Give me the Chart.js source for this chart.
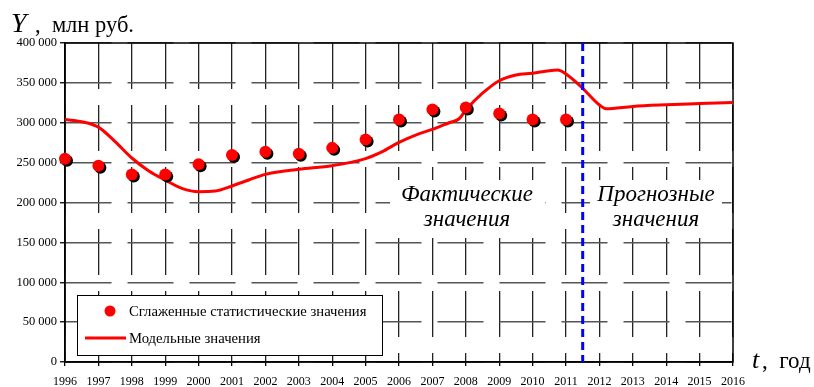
<!DOCTYPE html>
<html lang="ru">
<head>
<meta charset="utf-8">
<script src="https://cdn.jsdelivr.net/npm/chart.js@4.4.1/dist/chart.umd.min.js"></script>
<style>
  html, body { margin: 0; padding: 0; background: #fff; }
  #wrap { position: relative; width: 814px; height: 387px; }
</style>
</head>
<body>
<div id="wrap"><canvas id="c" width="814" height="387"></canvas></div>
<script>
// Years shown on the time axis
const tickYears = [1996, 1997, 1998, 1999, 2000, 2001, 2002, 2003, 2004, 2005, 2006,
                   2007, 2008, 2009, 2010, 2011, 2012, 2013, 2014, 2015, 2016];
const yTicks = [0, 50000, 100000, 150000, 200000, 250000, 300000, 350000, 400000];

// Smoothed statistical values, mln rub.
const statYears = [1996, 1997, 1998, 1999, 2000, 2001, 2002, 2003, 2004, 2005, 2006,
                   2007, 2008, 2009, 2010, 2011];
const statValues = [255000, 246000, 235000, 235000, 248000, 259500, 263500, 261000, 268500,
                    279000, 304000, 316500, 319000, 311500, 304000, 304000];

// Model curve (fitted + forecast)
const modelX = [1996, 1996.5, 1997, 1997.5, 1998, 1998.5, 1999, 1999.5, 2000, 2000.5,
                2001, 2001.5, 2002, 2003, 2004, 2005, 2005.5, 2006, 2006.5, 2007,
                2007.5, 2007.8, 2008, 2008.5, 2009, 2009.5, 2010, 2010.5, 2010.75, 2011,
                2011.5, 2012, 2012.2, 2013, 2014, 2015, 2016];
const modelY = [304000, 301300, 294500, 276300, 255800, 239900, 228200, 217800, 213600, 214400,
                220700, 228200, 235300, 241600, 246200, 255000, 263700, 275500, 284600, 291700,
                300000, 305000, 316000, 337000, 352700, 359900, 362000, 365300, 366000, 361100,
                343200, 322300, 317500, 320500, 322500, 324000, 325500];

// Boundary between actual and forecast periods
const forecastStart = 2011.5;

const serif = '"Liberation Serif", "Times New Roman", serif';

const fmt = v => String(v).replace(/\B(?=(\d{3})+(?!\d))/g, ' ');

const shadowPlugin = {
  id: 'dotShadow',
  beforeDatasetDraw(chart, args) {
    if (args.index !== 0) return;
    const ctx = chart.ctx;
    ctx.save();
    ctx.shadowColor = '#000';
    ctx.shadowOffsetX = 2;
    ctx.shadowOffsetY = 2;
    ctx.shadowBlur = 0;
  },
  afterDatasetDraw(chart, args) {
    if (args.index !== 0) return;
    chart.ctx.restore();
  }
};

const decorPlugin = {
  id: 'decor',
  beforeDatasetsDraw(chart) {
    const { ctx, chartArea: a } = chart;
    ctx.save();
    // white plates under the period captions
    ctx.fillStyle = '#fff';
    ctx.fillRect(390, 180, 155, 58);
    ctx.fillRect(590, 180, 132, 58);
    // legend box
    ctx.fillRect(77, 295, 305, 60);
    ctx.strokeStyle = '#000';
    ctx.lineWidth = 1;
    ctx.strokeRect(77.5, 295.5, 305, 60);
    // plot frame
    ctx.lineWidth = 1.5;
    ctx.strokeRect(a.left, a.top, a.right - a.left, a.bottom - a.top);

    // period captions
    ctx.fillStyle = '#000';
    ctx.textAlign = 'center';
    ctx.textBaseline = 'alphabetic';
    ctx.font = 'italic 23px ' + serif;
    ctx.fillText('Фактические', 467, 201);
    ctx.fillText('значения', 467, 226);
    ctx.fillText('Прогнозные', 656, 201);
    ctx.fillText('значения', 656, 226);

    // legend entries
    ctx.textAlign = 'left';
    ctx.font = '14.7px ' + serif;
    ctx.fillStyle = '#ff0000';
    ctx.beginPath();
    ctx.arc(110, 311, 5.5, 0, Math.PI * 2);
    ctx.fill();
    ctx.strokeStyle = '#ff0000';
    ctx.lineWidth = 3;
    ctx.beginPath();
    ctx.moveTo(85, 338);
    ctx.lineTo(126, 338);
    ctx.stroke();
    ctx.fillStyle = '#000';
    ctx.fillText('Сглаженные статистические значения', 129, 316);
    ctx.fillText('Модельные значения', 129, 343);

    // axis titles
    ctx.font = 'italic 28px ' + serif;
    ctx.fillText('Y', 11, 32);
    ctx.font = '22.5px ' + serif;
    ctx.fillText(',  млн руб.', 35, 32);
    ctx.font = 'italic 26px ' + serif;
    ctx.fillText('t', 752, 368);
    ctx.font = '23px ' + serif;
    ctx.fillText(',  год', 762, 368);
    ctx.restore();
  }
};

new Chart(document.getElementById('c'), {
  type: 'scatter',
  data: {
    datasets: [
      {
        label: 'Сглаженные статистические значения',
        data: statYears.map((x, i) => ({ x, y: statValues[i] })),
        backgroundColor: '#ff0000',
        borderColor: '#ff0000',
        pointRadius: 6,
        pointBorderWidth: 0,
        clip: false,
        order: 1
      },
      {
        label: 'Модельные значения',
        type: 'line',
        data: modelX.map((x, i) => ({ x, y: modelY[i] })),
        borderColor: '#ff0000',
        borderWidth: 3,
        pointRadius: 0,
        fill: false,
        cubicInterpolationMode: 'monotone',
        order: 2
      },
      {
        label: 'Граница прогноза',
        type: 'line',
        data: [{ x: forecastStart, y: 400000 }, { x: forecastStart, y: 0 }],
        borderColor: '#0000ff',
        borderWidth: 3,
        borderDash: [8, 5],
        pointRadius: 0,
        fill: false,
        order: 0
      }
    ]
  },
  options: {
    responsive: false,
    animation: false,
    events: [],
    layout: { padding: { top: 43, right: 81, left: 0, bottom: 0 } },
    plugins: { legend: { display: false }, tooltip: { enabled: false } },
    scales: {
      x: {
        type: 'linear',
        min: 1996,
        max: 2016,
        afterBuildTicks: s => { s.ticks = tickYears.map(v => ({ value: v })); },
        afterFit: s => { s.height = 25; },
        ticks: {
          autoSkip: false,
          maxRotation: 0,
          padding: 9,
          color: '#000',
          font: { family: serif, size: 12 },
          callback: v => String(v)
        },
        grid: { color: '#222', lineWidth: 1.3, tickLength: 4, tickColor: '#000', tickWidth: 1.3 },
        border: { color: '#000', width: 1.5, dash: [46, 16], dashOffset: 0 }
      },
      y: {
        min: 0,
        max: 400000,
        afterBuildTicks: s => { s.ticks = yTicks.map(v => ({ value: v })); },
        afterFit: s => { s.width = 65; },
        ticks: {
          padding: 3,
          color: '#000',
          font: { family: serif, size: 12.5 },
          callback: v => fmt(v)
        },
        grid: { color: '#555', lineWidth: 1.5, tickLength: 5, tickColor: '#000', tickWidth: 1.3 },
        border: { color: '#000', width: 1.5, dash: [46, 16], dashOffset: 0 }
      }
    }
  },
  plugins: [shadowPlugin, decorPlugin]
});
</script>
</body>
</html>
